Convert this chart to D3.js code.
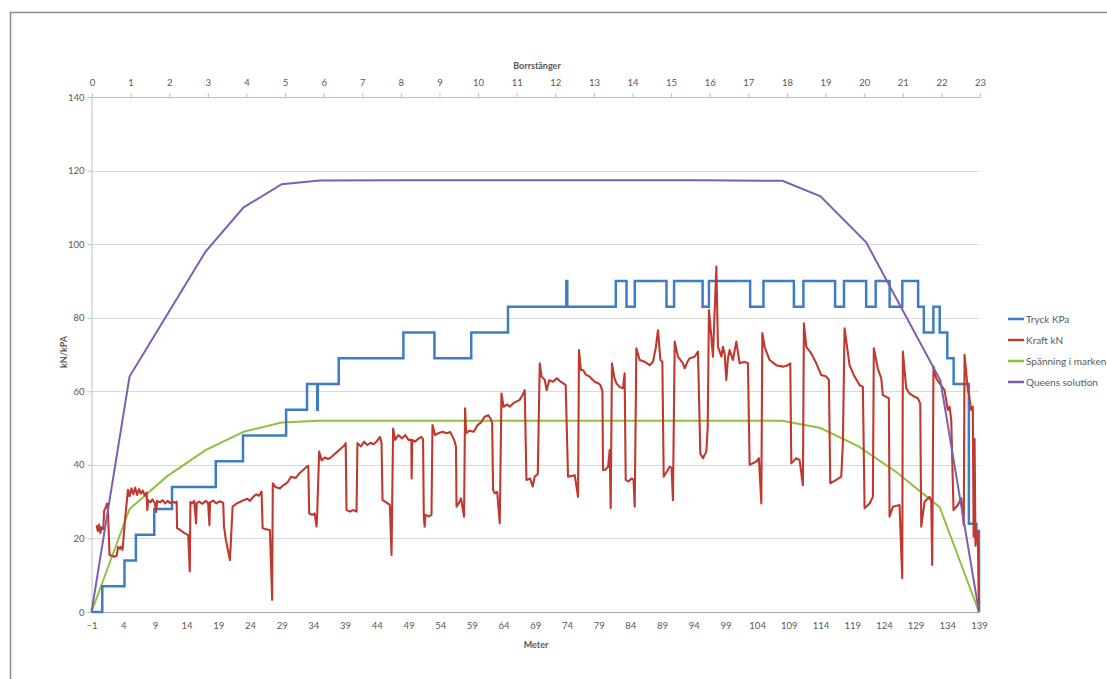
<!DOCTYPE html>
<html>
<head>
<meta charset="utf-8">
<script src="https://cdn.jsdelivr.net/npm/d3@7"></script>
<style>
  body { margin: 0; background: #fff; }
  text { font-family: Lato, "Open Sans", sans-serif; fill: #595959; }
</style>
</head>
<body>
<div id="chart"></div>
<script>
// axis labels
var meterTicks = [-1, 4, 9, 14, 19, 24, 29, 34, 39, 44, 49, 54, 59, 64, 69, 74, 79, 84, 89, 94, 99, 104, 109, 114, 119, 124, 129, 134, 139];
var rodTicks = [0, 1, 2, 3, 4, 5, 6, 7, 8, 9, 10, 11, 12, 13, 14, 15, 16, 17, 18, 19, 20, 21, 22, 23];
var yTicks = [0, 20, 40, 60, 80, 100, 120, 140];
var seriesNames = ["Tryck KPa", "Kraft kN", "Spänning i marken", "Queens solution"];

// Tryck KPa (steps: [meter, value] where the value changes)
var tryck = [[-1, 0], [0.7, 7], [4.2, 14], [6.0, 21], [8.9, 28], [11.7, 34], [18.6, 41], [22.9, 48], [29.7, 55], [33, 62],
  [34.6, 55], [34.7, 62], [38, 69], [48.2, 76], [53.1, 69], [58.9, 76], [64.7, 83], [73.9, 90], [74.05, 83], [81.7, 90],
  [83.4, 83], [84.7, 90], [89.7, 83], [90.9, 90], [95.4, 83], [96.4, 90], [102.9, 83], [105, 90], [109.8, 83], [111.3, 90],
  [116.3, 83], [117.7, 90], [121.2, 83], [122.7, 90], [124.9, 83], [126.9, 90], [129.4, 83], [130.3, 76], [131.8, 83],
  [132.8, 76], [134, 69], [135, 62], [137.4, 24], [138.6, 22], [139, 0]];

// Kraft kN
var kraft = [[-0.2, 23.6], [0.0, 22.0], [0.2, 23.8], [0.4, 21.5], [0.6, 23.0], [0.86, 22.5], [1.0, 27.5], [1.29, 28.6],
  [1.45, 29.5], [1.6, 27.8], [1.84, 15.5], [2.3, 15.2], [2.6, 15.0], [2.97, 15.3], [3.2, 17.7], [3.5, 17.2], [3.65, 17.7],
  [3.9, 16.9], [4.28, 25], [4.75, 33.2], [5.0, 31.5], [5.3, 33.6], [5.6, 32], [5.9, 33.8], [6.2, 31.8], [6.5, 33.4],
  [6.8, 32.2], [7.1, 33.0], [7.4, 31.6], [7.7, 32.5], [7.8, 27.7], [7.95, 30.4], [8.3, 29.8], [8.6, 30.6], [9.0, 29.6],
  [9.2, 27.2], [9.35, 30.2], [9.8, 29.8], [10.2, 30.4], [10.6, 29.5], [11.0, 30.2], [11.4, 29.6], [11.8, 30.0], [12.2, 29.7],
  [12.43, 30.0], [12.5, 22.8], [13.0, 22.3], [13.6, 21.5], [14.26, 20.9], [14.5, 11.0], [14.6, 29.9], [14.84, 29.5],
  [15.2, 30.2], [15.5, 24.1], [15.6, 29.6], [16.0, 30.0], [16.5, 29.4], [17.0, 30.2], [17.4, 29.6], [17.6, 23.6],
  [17.7, 29.8], [18.2, 30.3], [18.7, 29.5], [19.2, 30.1], [19.78, 29.7], [19.9, 23.2], [20.2, 19.6], [20.5, 17.0],
  [20.84, 14.1], [21.26, 28.6], [21.8, 29.4], [22.4, 29.9], [23.0, 30.4], [23.6, 30.8], [24.0, 30.2], [24.5, 31.3],
  [25.0, 32.0], [25.4, 31.6], [25.83, 32.7], [25.99, 22.8], [26.5, 22.5], [27.14, 22.3], [27.5, 3.3], [27.6, 35.0],
  [28.0, 34.0], [28.72, 33.6], [29.3, 34.5], [29.9, 35.2], [30.5, 36.8], [31.2, 36.4], [31.8, 37.7], [32.4, 38.6],
  [32.93, 39.5], [33.2, 39.7], [33.34, 26.8], [33.8, 26.4], [34.2, 26.8], [34.5, 23.2], [34.6, 26.5], [34.91, 43.6],
  [35.3, 41.2], [35.8, 42.0], [36.3, 41.6], [36.6, 41.8], [37.2, 42.7], [37.8, 43.6], [38.4, 44.5], [38.97, 45.4],
  [39.1, 45.9], [39.23, 27.7], [39.8, 27.3], [40.3, 27.7], [40.81, 27.3], [40.95, 45.9], [41.5, 45.0], [42.0, 46.3],
  [42.5, 45.4], [43.0, 46.0], [43.5, 45.6], [44.0, 46.4], [44.5, 47.6], [44.75, 46.0], [44.91, 30.4], [45.5, 29.8],
  [46.06, 29.1], [46.33, 15.5], [46.58, 49.9], [46.9, 46.8], [47.4, 48.1], [48.0, 47.2], [48.5, 48.1], [49.0, 46.8],
  [49.45, 46.8], [49.5, 36.3], [49.6, 46.8], [50.0, 46.3], [50.5, 47.0], [51.0, 47.6], [51.3, 47.0], [51.42, 25.9],
  [51.55, 23.2], [51.7, 26.4], [52.2, 26.0], [52.63, 26.4], [52.79, 50.8], [53.2, 48.1], [53.7, 48.6], [54.4, 49.0],
  [55.0, 48.6], [55.6, 48.9], [56.2, 46.8], [56.5, 44.9], [56.58, 28.6], [57.0, 29.8], [57.3, 30.9], [57.77, 25.9],
  [57.93, 55.4], [58.1, 48.6], [58.6, 49.3], [59.3, 49.0], [59.9, 50.8], [60.5, 51.6], [61.0, 53.1], [61.6, 53.5],
  [62.0, 52.4], [62.2, 51.3], [62.35, 33.2], [62.6, 32.3], [63.0, 32.6], [63.4, 24.1], [63.67, 59.4], [64.0, 55.8],
  [64.6, 56.4], [65.0, 55.8], [65.5, 56.7], [66.0, 57.2], [66.5, 57.6], [67.0, 59.0], [67.34, 60.3], [67.61, 35.9],
  [68.2, 36.3], [68.6, 34.1], [68.92, 36.8], [69.4, 37.5], [69.71, 67.6], [70.0, 64.0], [70.5, 63.1], [70.8, 60.3],
  [71.2, 63.0], [71.8, 62.6], [72.4, 63.5], [73.0, 62.6], [73.38, 62.2], [73.8, 61.7], [74.17, 36.8], [74.8, 37.0],
  [75.23, 37.2], [75.75, 31.3], [75.9, 71.2], [76.2, 65.8], [76.53, 65.8], [77.0, 64.5], [77.59, 64.0], [78.0, 63.2],
  [78.38, 62.6], [78.9, 62.2], [79.28, 61.7], [79.6, 59.9], [79.69, 38.6], [80.0, 38.6], [80.5, 39.5], [80.74, 44.0],
  [80.9, 28.2], [81.1, 67.6], [81.5, 63.5], [81.8, 62.2], [82.3, 61.2], [82.84, 60.8], [83.1, 64.9], [83.27, 35.9],
  [83.7, 35.5], [84.17, 36.3], [84.5, 36.0], [84.69, 28.6], [84.95, 71.7], [85.47, 68.5], [86.26, 68.0], [86.7, 67.5],
  [87.05, 67.1], [87.57, 68.0], [88.0, 71.7], [88.36, 76.6], [88.74, 68.5], [89.05, 68.0], [89.26, 36.8], [89.7, 38.0],
  [90.2, 39.5], [90.5, 39.2], [90.72, 30.4], [91.0, 73.5], [91.51, 69.4], [92.3, 67.6], [92.57, 66.2], [93.0, 68.0],
  [93.36, 69.0], [94.15, 69.4], [94.67, 70.8], [95.04, 43.1], [95.45, 41.8], [95.99, 43.6], [96.2, 50], [96.4, 82.1],
  [96.78, 74.8], [97.03, 69.4], [97.19, 76.6], [97.57, 93.9], [97.82, 72.1], [98.36, 69.4], [98.6, 72.1], [98.87, 70.3],
  [99.14, 63.1], [99.4, 69.0], [99.66, 71.2], [100.18, 68.5], [100.72, 73.5], [101.24, 67.6], [102.03, 68.0],
  [102.55, 67.6], [102.82, 40.0], [103.87, 40.9], [104.28, 41.8], [104.66, 29.5], [104.82, 75.8], [105.18, 72.1],
  [105.97, 68.5], [107.02, 67.1], [108.07, 66.7], [108.85, 67.1], [109.23, 67.6], [109.39, 40.4], [110.18, 41.8],
  [110.7, 41.3], [111.22, 34.5], [111.38, 78.5], [111.76, 72.1], [112.54, 70.3], [113.33, 67.6], [114.12, 64.4],
  [114.91, 64.0], [115.32, 63.1], [115.54, 35.0], [116.49, 35.9], [117.27, 36.8], [117.53, 45.9], [117.79, 77.1],
  [118.58, 67.1], [119.37, 64.0], [120.16, 61.7], [120.68, 61.2], [120.95, 28.2], [121.74, 29.5], [122.26, 31.3],
  [122.41, 71.7], [123.04, 66.2], [123.58, 63.5], [123.83, 59.0], [124.37, 58.5], [124.78, 58.1], [124.89, 25.9],
  [125.41, 28.6], [126.46, 29.1], [126.89, 9.2], [126.99, 70.8], [127.52, 60.8], [128.04, 59.4], [128.83, 58.5],
  [129.35, 58.1], [129.73, 56.7], [129.89, 23.2], [130.41, 30.0], [131.2, 31.3], [131.46, 30.4], [131.62, 12.8],
  [131.82, 66.7], [132.25, 63.5], [132.77, 62.2], [133.56, 60.3], [134.08, 54.9], [134.35, 55.8], [134.62, 52.2],
  [134.98, 27.7], [135.66, 29.1], [136.19, 30.9], [136.6, 23.6], [136.72, 69.9], [137.24, 60.3], [137.39, 59.4],
  [137.77, 54.9], [138.02, 55.8], [138.15, 20.5], [138.3, 47], [138.45, 18], [138.6, 22.0], [138.8, 21.9], [139.0, 0.5]];

// Spänning i marken
var spanning = [[-1, 0], [5, 28], [11, 37], [17, 44], [23, 49], [29, 51.5], [35, 52], [47, 52], [59, 52], [71, 52],
  [83, 52], [95, 52], [108, 52], [114, 50], [120, 45], [126, 38], [132.8, 28.5], [139, 0]];

// Queens solution
var queens = [[-1, 0], [5, 64], [11, 81], [17, 98], [23, 110], [29, 116.3], [35, 117.3], [47, 117.4], [59, 117.4],
  [71, 117.4], [83, 117.4], [95, 117.4], [108, 117.2], [114, 113], [121.2, 100.5], [132.9, 63], [139, 0]];

var colors = ["#3e7dc6", "#c0392f", "#8dc13f", "#7d5fb2"];

var w = 1107, h = 679;
var x = d3.scaleLinear().domain([-1, 139]).range([91.5, 979]);
var xTop = d3.scaleLinear().domain([0, 23]).range([92, 980]);
var y = d3.scaleLinear().domain([0, 140]).range([612, 97]);

var svg = d3.select("#chart").append("svg").attr("width", w).attr("height", h);
svg.append("rect").attr("width", w).attr("height", h).attr("fill", "#fff");

// outer frame
svg.append("rect")
  .attr("x", 10.5).attr("y", 12.5).attr("width", 1200).attr("height", 1000)
  .attr("fill", "none").attr("stroke", "#8c8c8c").attr("stroke-width", 1.5);

// horizontal gridlines
svg.selectAll(".grid")
  .data(yTicks.slice(1, -1))
  .enter()
  .append("line")
  .attr("x1", x(-1)).attr("x2", x(139))
  .attr("y1", function (d) { return Math.round(y(d)) + 0.5; })
  .attr("y2", function (d) { return Math.round(y(d)) + 0.5; })
  .attr("stroke", "#d9d9d9");

// y axis
var yAxis = svg.append("g")
  .attr("transform", "translate(" + x(-1) + ",0)")
  .call(d3.axisLeft(y).tickValues(yTicks).tickSize(4).tickPadding(3));
yAxis.select(".domain").attr("stroke", "#bfbfbf");
yAxis.selectAll(".tick line").attr("stroke", "#bfbfbf");
yAxis.selectAll("text").style("font-size", "9.5px").attr("fill", "#595959");

// bottom axis
var xAxis = svg.append("g")
  .attr("transform", "translate(0," + y(0) + ")")
  .call(d3.axisBottom(x).tickValues(meterTicks).tickSize(0).tickPadding(10));
xAxis.select(".domain").attr("stroke", "#a6a6a6");
xAxis.selectAll("text").style("font-size", "9.5px").attr("fill", "#595959");

// top axis (Borrstänger)
var topAxis = svg.append("g")
  .attr("transform", "translate(0," + y(140) + ")")
  .call(d3.axisTop(xTop).tickValues(rodTicks).tickSize(4).tickPadding(7));
topAxis.select(".domain").attr("stroke", "#bfbfbf");
topAxis.selectAll(".tick line").attr("stroke", "#bfbfbf");
topAxis.selectAll("text").style("font-size", "9.5px").attr("fill", "#595959");

// axis titles
svg.append("text").text("Borrstänger")
  .attr("x", 537).attr("y", 69).attr("text-anchor", "middle")
  .style("font-size", "9px").style("font-weight", "bold");
svg.append("text").text("Meter")
  .attr("x", 536).attr("y", 648).attr("text-anchor", "middle")
  .style("font-size", "9px").style("font-weight", "bold");
svg.append("text").text("kN/kPA")
  .attr("transform", "translate(67,352) rotate(-90)")
  .attr("text-anchor", "middle")
  .style("font-size", "9px").style("font-weight", "bold");

// series
var line = d3.line()
  .x(function (d) { return x(d[0]); })
  .y(function (d) { return y(d[1]); });
var stepLine = d3.line()
  .x(function (d) { return x(d[0]); })
  .y(function (d) { return y(d[1]); })
  .curve(d3.curveStepAfter);

svg.append("path").datum(spanning)
  .attr("d", line).attr("fill", "none")
  .attr("stroke", colors[2]).attr("stroke-width", 2);
svg.append("path").datum(tryck)
  .attr("d", stepLine).attr("fill", "none")
  .attr("stroke", colors[0]).attr("stroke-width", 2.5);
svg.append("path").datum(kraft)
  .attr("d", line).attr("fill", "none")
  .attr("stroke", colors[1]).attr("stroke-width", 2.1)
  .attr("stroke-linejoin", "round");
svg.append("path").datum(queens)
  .attr("d", line).attr("fill", "none")
  .attr("stroke", colors[3]).attr("stroke-width", 2);

// legend
var legend = svg.selectAll(".legend")
  .data(seriesNames)
  .enter()
  .append("g")
  .attr("transform", function (d, i) { return "translate(1008," + (319 + i * 21) + ")"; });
legend.append("line")
  .attr("x1", 0).attr("x2", 16)
  .attr("stroke", function (d, i) { return colors[i]; })
  .attr("stroke-width", 2.5);
legend.append("text")
  .text(function (d) { return d; })
  .attr("x", 18).attr("y", 3.5)
  .style("font-size", "10px");
</script>
</body>
</html>
